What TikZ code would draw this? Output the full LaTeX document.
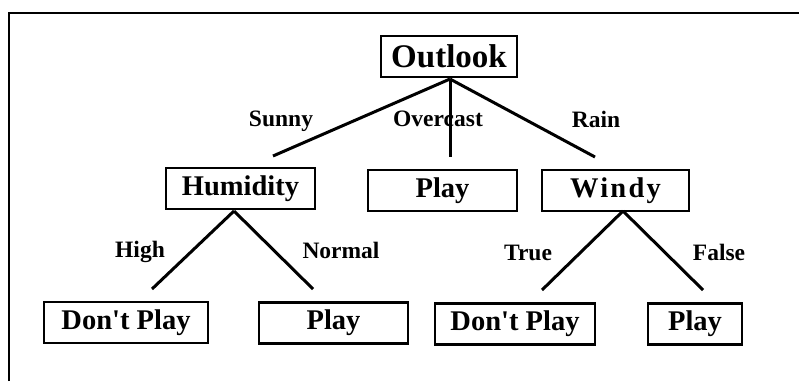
\documentclass[tikz,border=0pt]{standalone}
\usepackage{fontspec}
\setmainfont{Liberation Serif}
\begin{document}
\begin{tikzpicture}[x=1pt,y=-1pt,
  box/.style={draw,line width=2.2pt,inner sep=0pt,minimum height=41pt,font=\fontsize{28.5}{30}\selectfont\bfseries},
  lbl/.style={font=\fontsize{23.5}{25}\selectfont\bfseries,inner sep=0pt,anchor=base},
  edge/.style={line width=3pt}]
\useasboundingbox (0,0) rectangle (799,381);
\draw[line width=1.5pt] (9,381) -- (9,13) -- (799,13);
% nodes
\node[box,minimum width=136pt,font=\fontsize{33}{35}\selectfont\bfseries] (outlook) at (449,56.5) {Outlook};
\node[box,minimum width=149pt] (humid) at (240.5,188.5) {Humidity};
\node[box,minimum width=149pt] (playm) at (442.5,190.5) {Play};
\node[box,minimum width=147pt] (windy) at (615.5,190.5) {\addfontfeature{LetterSpace=8}Windy};
\node[box,minimum width=164pt] (dpl) at (126,322.5) {Don\textquotesingle t Play};
\node[box,minimum width=149pt] (playl) at (333.5,323) {Play};
\node[box,minimum width=160pt] (dpr) at (515,324) {Don\textquotesingle t Play};
\node[box,minimum width=94pt] (playr) at (695,324) {Play};
% connector ends
\coordinate (oo) at (450,79);
\coordinate (hh) at (234,211);
\coordinate (ww) at (623,211);
\coordinate (eSunny) at (273,156);
\coordinate (eOver) at (450,157);
\coordinate (eRain) at (595,157);
\coordinate (eHigh) at (152,289);
\coordinate (eNormal) at (313,289);
\coordinate (eTrue) at (542,290);
\coordinate (eFalse) at (703,290);
\draw[edge] (oo) -- (eSunny);
\draw[edge] (oo) -- (eOver);
\draw[edge] (oo) -- (eRain);
\draw[edge] (hh) -- (eHigh);
\draw[edge] (hh) -- (eNormal);
\draw[edge] (ww) -- (eTrue);
\draw[edge] (ww) -- (eFalse);
% labels
\node[lbl] (lSunny) at (281,126) {Sunny};
\node[lbl] (lOver) at (438,126) {Overcast};
\node[lbl] (lRain) at (596,127) {Rain};
\node[lbl] (lHigh) at (140,257) {High};
\node[lbl] (lNormal) at (341,258) {Normal};
\node[lbl] (lTrue) at (528,260) {True};
\node[lbl] (lFalse) at (719,260) {False};
\end{tikzpicture}
\end{document}
